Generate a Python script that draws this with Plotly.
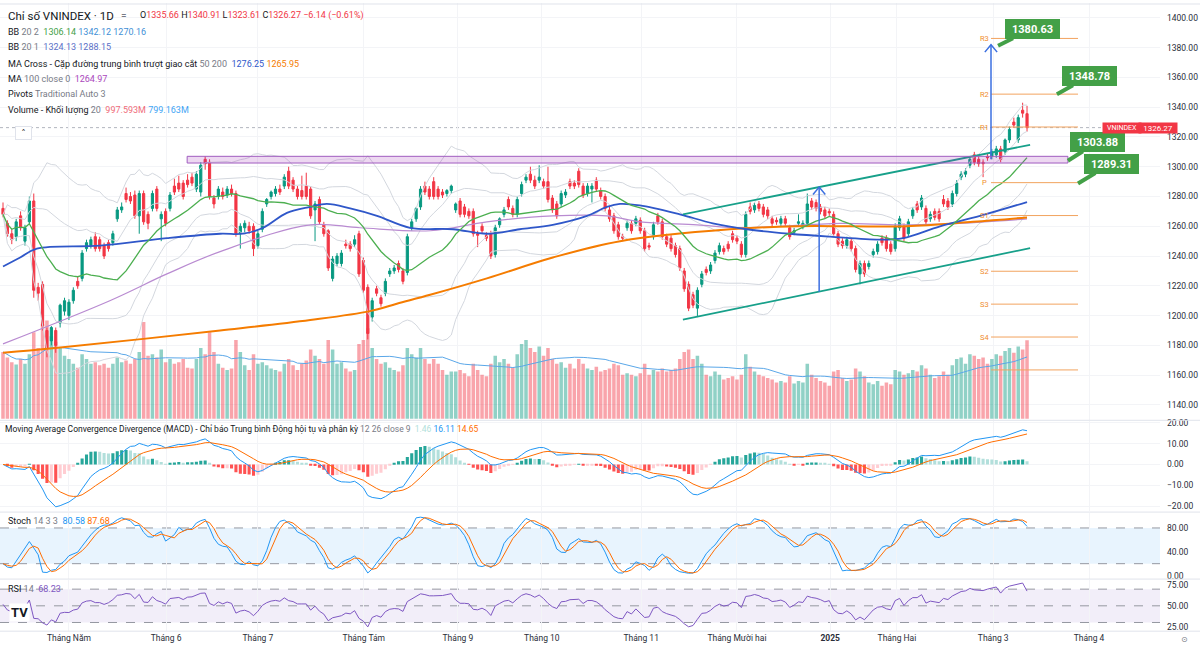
import numpy as np
import pandas as pd
import plotly.graph_objects as go

# ---------------- data ----------------
OPEN = [1272,1262,1255,1253,1267,1250,1263,1277,1219,1221,
        1190,1183,1190,1195,1203,1200,1210,1223,1225,1245,
        1247,1253,1251,1247,1249,1249,1265,1271,1282,1280,
        1281,1267,1282,1268,1272,1285,1265,1270,1272,1287,
        1289,1289,1291,1293,1285,1283,1305,1303,1279,1280,
        1283,1281,1285,1282,1255,1259,1260,1260,1247,1258,
        1275,1280,1282,1285,1287,1297,1291,1285,1284,1287,
        1285,1271,1278,1261,1257,1225,1235,1235,1248,1248,
        1248,1255,1237,1219,1199,1218,1212,1215,1228,1230,
        1235,1230,1229,1259,1265,1273,1287,1285,1290,1285,
        1283,1282,1284,1271,1277,1273,1270,1270,1255,1260,
        1254,1255,1241,1261,1268,1278,1272,1268,1282,1291,
        1295,1291,1291,1290,1290,1279,1275,1275,1281,1290,
        1289,1297,1287,1282,1285,1291,1284,1280,1271,1267,
        1261,1253,1259,1262,1262,1264,1257,1247,1253,1267,
        1263,1253,1252,1247,1245,1230,1221,1214,1205,1221,
        1231,1230,1237,1243,1245,1248,1255,1252,1248,1241,
        1273,1271,1275,1273,1271,1265,1264,1262,1265,1259,
        1256,1262,1260,1262,1277,1276,1273,1271,1270,1268,
        1255,1250,1247,1250,1245,1228,1235,1233,1241,1243,
        1252,1252,1248,1245,1259,1260,1255,1267,1275,1273,
        1272,1265,1270,1270,1278,1277,1275,1282,1293,1295,
        1301,1308,1305,1303,1307,1307,1308,1312,1310,1318,
        1330,1318,1338,1335.66]
HIGH = [1276,1264,1258,1265,1270,1261,1280,1282,1222,1223,
        1192,1193,1192,1208,1212,1211,1219,1226,1244,1251,
        1253,1256,1253,1249,1251,1257,1273,1276,1286,1283,
        1284,1284,1284,1270,1284,1287,1270,1272,1283,1292,
        1294,1291,1295,1296,1297,1303,1307,1305,1281,1287,
        1286,1287,1288,1284,1262,1264,1263,1262,1257,1272,
        1279,1284,1287,1288,1295,1300,1293,1287,1294,1296,
        1287,1277,1280,1263,1258,1240,1242,1244,1251,1250,
        1254,1257,1239,1221,1212,1220,1214,1225,1232,1234,
        1237,1232,1255,1265,1273,1287,1290,1287,1293,1287,
        1285,1285,1288,1276,1279,1275,1272,1272,1257,1262,
        1256,1257,1261,1266,1273,1280,1274,1280,1290,1295,
        1300,1294,1301,1292,1300,1281,1277,1284,1285,1292,
        1291,1299,1289,1289,1289,1293,1286,1282,1273,1269,
        1263,1255,1264,1264,1267,1266,1259,1249,1263,1269,
        1265,1255,1254,1249,1247,1232,1223,1216,1219,1230,
        1233,1236,1244,1249,1247,1250,1257,1254,1250,1270,
        1276,1276,1277,1275,1273,1267,1266,1267,1267,1261,
        1259,1268,1264,1282,1279,1278,1275,1273,1272,1270,
        1257,1252,1253,1252,1247,1237,1237,1237,1245,1250,
        1254,1254,1250,1262,1267,1262,1265,1273,1277,1281,
        1274,1270,1272,1272,1281,1279,1284,1291,1297,1299,
        1307,1310,1307,1305,1309,1312,1314,1314,1319,1327,
        1333,1335,1343,1340.91]
LOW = [1266,1253,1248,1250,1257,1247,1261,1212,1210,1190,
       1172,1180,1175,1192,1200,1197,1208,1218,1223,1243,
       1245,1243,1243,1238,1243,1247,1263,1269,1276,1275,
       1265,1255,1261,1258,1270,1270,1250,1260,1270,1281,
       1283,1278,1286,1287,1283,1280,1298,1278,1272,1278,
       1278,1279,1280,1253,1245,1256,1255,1240,1245,1256,
       1273,1278,1280,1281,1285,1285,1283,1278,1278,1278,
       1265,1250,1261,1253,1230,1223,1233,1233,1245,1243,
       1246,1226,1215,1184,1196,1213,1206,1213,1226,1228,
       1229,1221,1227,1257,1263,1271,1281,1278,1278,1278,
       1279,1280,1282,1269,1266,1266,1265,1253,1246,1255,
       1250,1238,1239,1259,1266,1271,1266,1266,1280,1289,
       1289,1285,1289,1285,1276,1269,1265,1273,1279,1285,
       1285,1286,1279,1280,1276,1283,1278,1270,1263,1255,
       1251,1250,1257,1255,1260,1255,1243,1244,1251,1261,
       1251,1246,1243,1239,1230,1216,1203,1205,1199,1219,
       1227,1228,1235,1241,1241,1243,1249,1248,1239,1239,
       1268,1269,1270,1266,1265,1260,1261,1260,1260,1251,
       1254,1260,1258,1260,1271,1270,1268,1265,1267,1253,
       1246,1245,1245,1243,1229,1221,1226,1231,1239,1241,
       1247,1243,1241,1243,1257,1250,1253,1265,1269,1271,
       1261,1263,1264,1263,1273,1271,1273,1280,1291,1293,
       1299,1301,1300,1293,1304,1305,1306,1303,1308,1316,
       1326,1316,1333,1323.61]
CLOSE = [1268,1255,1251,1263,1259,1259,1277,1217,1215,1193,
         1178,1192,1180,1207,1210,1209,1217,1220,1242,1249,
         1251,1245,1245,1240,1245,1255,1271,1273,1278,1277,
         1267,1282,1263,1262,1282,1272,1268,1262,1281,1283,
         1285,1280,1288,1289,1295,1301,1302,1280,1275,1285,
         1280,1285,1282,1255,1260,1262,1257,1245,1255,1270,
         1278,1283,1285,1283,1293,1287,1285,1280,1280,1280,
         1267,1275,1263,1255,1232,1238,1240,1242,1247,1245,
         1251,1228,1217,1188,1210,1215,1208,1223,1230,1232,
         1231,1223,1253,1263,1272,1285,1283,1280,1280,1280,
         1281,1284,1287,1275,1268,1268,1267,1255,1254,1257,
         1252,1240,1259,1265,1271,1273,1268,1278,1288,1293,
         1291,1287,1293,1287,1278,1271,1267,1282,1283,1287,
         1287,1288,1281,1287,1287,1285,1280,1272,1265,1257,
         1253,1252,1262,1257,1265,1257,1245,1246,1261,1263,
         1253,1248,1245,1241,1232,1218,1205,1207,1217,1228,
         1229,1234,1242,1247,1243,1245,1251,1250,1241,1268,
         1270,1274,1272,1268,1267,1262,1263,1265,1262,1253,
         1257,1263,1262,1275,1273,1272,1270,1267,1269,1255,
         1248,1247,1251,1245,1231,1235,1228,1235,1243,1248,
         1249,1245,1243,1260,1265,1252,1263,1271,1271,1279,
         1263,1268,1266,1265,1275,1273,1282,1289,1295,1297,
         1305,1303,1302,1302,1306,1310,1312,1305,1318,1325,
         1328,1333,1336,1326.27]
VOLUME_M = [850,780,720,690,760,700,820,1100,900,1200,
            1250,1050,980,900,800,760,700,650,820,760,
            700,720,680,700,650,700,780,720,740,700,
            760,850,1230,800,820,780,880,720,760,700,
            720,760,650,640,760,900,820,1100,850,700,
            650,620,640,1000,850,680,620,820,700,720,
            680,640,620,600,700,760,680,620,700,740,
            880,800,760,700,1000,880,700,720,640,600,
            620,950,1000,1150,900,760,700,720,650,620,
            600,680,900,820,780,900,760,700,760,700,
            620,560,600,600,620,580,540,700,620,560,
            540,700,800,720,760,700,650,820,950,1000,
            900,850,920,800,900,760,700,720,650,700,
            640,760,700,640,620,660,600,620,640,700,
            680,560,580,560,540,580,700,560,620,600,
            640,600,620,640,760,850,880,760,800,700,
            560,540,600,560,500,520,540,500,560,820,
            660,600,560,540,520,500,460,480,460,540,
            450,480,460,700,560,520,480,460,420,600,
            620,520,480,500,640,600,540,460,440,480,
            420,460,440,620,600,560,580,620,600,680,
            640,560,520,540,600,560,680,760,780,700,
            820,800,760,780,700,760,820,800,860,900,
            840,920,880,997.593]

# long moving averages, read as vertices (bar index, value)
MA50_X = [0, 3.9, 7.7, 22.1, 37.3, 49.4, 54.6, 59.2, 64.6, 69.9, 73.7, 79.0, 85.1, 92.6, 102.4, 110.1,
          117.6, 125.1, 132.9, 137.4, 140.4, 144.9, 154.0, 161.5, 169.3, 179.1, 188.2, 199.5, 204.8,
          213.2, 222.3, 233]
MA50_Y = [1233, 1239, 1245, 1247, 1252, 1255, 1255, 1259, 1269, 1273, 1275, 1272, 1267, 1259, 1258, 1255,
          1258, 1261, 1267, 1273, 1275, 1274, 1268, 1262, 1258, 1255, 1253, 1251, 1252,
          1260, 1267, 1276.25]
MA100_X = [0, 24.3, 37.3, 49.4, 69.9, 81.2, 97.2, 110.1, 125.1, 137.4, 144.9, 157.9, 167.7, 190.4, 204.1, 217.7, 233]
MA100_Y = [1181, 1210, 1228, 1243, 1261, 1259, 1257, 1263, 1267, 1267, 1263, 1261, 1259, 1262, 1261, 1262, 1264.97]
MA200_X = [0, 11.4, 49.4, 69.9, 83.5, 89.6, 97.2, 110.1, 125.1, 140.4, 165.4, 180.7, 192.7, 205.7, 220.7, 233]
MA200_Y = [1175, 1178, 1190, 1197, 1203, 1208, 1214, 1225, 1239, 1250, 1258, 1260, 1260, 1260, 1263, 1265.95]

MONTH_POS = [15.0, 37.1, 58.0, 82.1, 103.5, 122.6, 145.2, 167.0, 188.2, 203.4, 225.3, 247.1]
MONTH_LABELS = ["Tháng Năm", "Tháng 6", "Tháng 7", "Tháng Tám", "Tháng 9", "Tháng 10", "Tháng 11",
                "Tháng Mười hai", "<b>2025</b>", "Tháng Hai", "Tháng 3", "Tháng 4"]

PRICE_TICKS = [1140, 1160, 1180, 1200, 1220, 1240, 1260, 1280, 1300, 1320, 1340, 1360, 1380, 1400]
MACD_TICKS = [-20, -10, 0, 10, 20]
STOCH_TICKS = [0, 40, 80]
RSI_TICKS = [25, 50, 75]

# drawings
ZONE_X = [41.9, 242.3]
ZONE_Y = [1302.5, 1307.0]
CHANNEL_X = [154.7, 233.7]
CHANNEL_UP = [1268.0, 1314.7]
CHANNEL_LO = [1197.3, 1245.3]
ARROW_X = [185.7, 224.8]
ARROW_FROM = [1216.0, 1305.0]
ARROW_TO = [1286.3, 1382.0]
PIVOT_NAMES = ["R3", "R2", "R1", "P", "S1", "S2", "S3", "S4", "S5"]
PIVOT_VALS = [1386.2, 1348.78, 1326.7, 1289.31, 1267.2, 1229.8, 1207.7, 1185.6, 1163.5]
PIVOT_SPAN = [224.8, 244.6]
PIVOT_LABEL_X = 223.4
CALLOUT_TEXT = ["1380.63", "1348.78", "1303.88", "1289.31"]
CALLOUT_X = [226.4, 239.8, 242.3, 244.6]
CALLOUT_Y = [1381.3, 1348.7, 1304.0, 1288.7]
CALLOUT_OFF = [(34, -17), (33, -18.5), (30, -19), (33, -20)]
LAST_PRICE = 1326.27

# ---------------- indicators derived from the prices ----------------
c = pd.Series(CLOSE, dtype=float)
hi = pd.Series(HIGH, dtype=float)
lo = pd.Series(LOW, dtype=float)
basis = c.rolling(20, min_periods=1).mean()
sd = c.rolling(20, min_periods=1).std(ddof=0)
ema12 = c.ewm(span=12, adjust=False).mean()
ema26 = c.ewm(span=26, adjust=False).mean()
macd = ema12 - ema26
sig = macd.ewm(span=9, adjust=False).mean()
hist = macd - sig
ll = lo.rolling(14, min_periods=1).min()
hh = hi.rolling(14, min_periods=1).max()
raw = 100 * (c - ll) / (hh - ll)
k = raw.rolling(3, min_periods=1).mean()
d = k.rolling(3, min_periods=1).mean()

# RSI(14): Wilder smoothing, seeded with the series' average gain / loss (stands in for unseen history)
delta = c.diff().fillna(0)
gains = delta.clip(lower=0)
losses = -delta.clip(upper=0)
ag, al = gains[1:].mean(), losses[1:].mean()
rsi_vals = []
for gg, lv in zip(gains, losses):
    ag = (ag * 13 + gg) / 14
    al = (al * 13 + lv) / 14
    rsi_vals.append(100 - 100 / (1 + ag / al))
rsi = pd.Series(rsi_vals)
vol_ma = pd.Series(VOLUME_M, dtype=float).rolling(20, min_periods=1).mean()

N = len(CLOSE)
IDX = list(range(N))

# ---------------- geometry ----------------
W, H = 1200, 655
PX0, STEP = 3.0, 4.395
X_RIGHT = 1160
X_DOM = X_RIGHT / W
X_RANGE = [(0 - PX0) / STEP, (X_RIGHT - PX0) / STEP]


def py(p):
    return 1 - p / H


FONT = "Roboto"
DARK = "#131722"
GRAY = "#787b86"
UP = "#089981"
DN = "#f23645"

fig = go.Figure()

# volume
vol_colors = ["rgba(8,153,129,0.45)" if CLOSE[i] >= OPEN[i] else "rgba(242,54,69,0.45)" for i in IDX]
fig.add_trace(go.Bar(x=IDX, y=VOLUME_M, marker=dict(color=vol_colors, line=dict(width=0)), width=0.8,
                     xaxis="x", yaxis="y"))
fig.add_trace(go.Scatter(x=IDX, y=vol_ma, mode="lines", line=dict(color="#5aa7e8", width=1),
                         xaxis="x", yaxis="y"))

# bollinger bands
for band in [basis + 2 * sd, basis - 2 * sd, basis + sd, basis - sd]:
    fig.add_trace(go.Scatter(x=IDX, y=band, mode="lines", line=dict(color="#d3d7de", width=1),
                             xaxis="x", yaxis="y2"))
fig.add_trace(go.Scatter(x=MA100_X, y=MA100_Y, mode="lines", line=dict(color="#b98bd1", width=1.2, shape="spline"),
                         xaxis="x", yaxis="y2"))
fig.add_trace(go.Scatter(x=MA200_X, y=MA200_Y, mode="lines", line=dict(color="#f57c00", width=2, shape="spline"),
                         xaxis="x", yaxis="y2"))
fig.add_trace(go.Scatter(x=MA50_X, y=MA50_Y, mode="lines", line=dict(color="#2f57c9", width=1.8, shape="spline"),
                         xaxis="x", yaxis="y2"))
fig.add_trace(go.Scatter(x=IDX, y=basis, mode="lines", line=dict(color="#4caf50", width=1.3),
                         xaxis="x", yaxis="y2"))

# candles
fig.add_trace(go.Candlestick(x=IDX, open=OPEN, high=HIGH, low=LOW, close=CLOSE,
                             increasing=dict(line=dict(color=UP, width=1), fillcolor=UP),
                             decreasing=dict(line=dict(color=DN, width=1), fillcolor=DN),
                             whiskerwidth=0, xaxis="x", yaxis="y2"))

# pivot lines
pvx, pvy = [], []
for v in PIVOT_VALS:
    pvx += [PIVOT_SPAN[0], PIVOT_SPAN[1], None]
    pvy += [v, v, None]
fig.add_trace(go.Scatter(x=pvx, y=pvy, mode="lines", line=dict(color="#f2a35e", width=1),
                         xaxis="x", yaxis="y2"))

# channel
for yy in [CHANNEL_UP, CHANNEL_LO]:
    fig.add_trace(go.Scatter(x=CHANNEL_X, y=yy, mode="lines", line=dict(color="#17a08a", width=1.8),
                             xaxis="x", yaxis="y2"))

# measured-move arrows
for ax_, y0, y1 in zip(ARROW_X, ARROW_FROM, ARROW_TO):
    fig.add_trace(go.Scatter(x=[ax_, ax_, None, ax_ - 1.4, ax_, ax_ + 1.4],
                             y=[y0, y1, None, y1 - 5, y1, y1 - 5],
                             mode="lines", line=dict(color="#3b6fe0", width=1.5),
                             xaxis="x", yaxis="y2"))

# MACD
hist_colors = []
for i in IDX:
    h_ = hist[i]
    prev = hist[i - 1] if i > 0 else h_
    if h_ >= 0:
        hist_colors.append("#26a69a" if h_ >= prev else "#b2dfdb")
    else:
        hist_colors.append("#ffcdd2" if h_ >= prev else "#ff5252")
fig.add_trace(go.Bar(x=IDX, y=hist, marker=dict(color=hist_colors, line=dict(width=0)), width=0.7,
                     xaxis="x", yaxis="y3"))
fig.add_trace(go.Scatter(x=IDX, y=macd, mode="lines", line=dict(color="#2196f3", width=1), xaxis="x", yaxis="y3"))
fig.add_trace(go.Scatter(x=IDX, y=sig, mode="lines", line=dict(color="#ff6d00", width=1), xaxis="x", yaxis="y3"))

# Stoch
fig.add_trace(go.Scatter(x=IDX, y=k, mode="lines", line=dict(color="#2196f3", width=1), xaxis="x", yaxis="y4"))
fig.add_trace(go.Scatter(x=IDX, y=d, mode="lines", line=dict(color="#ff6d00", width=1), xaxis="x", yaxis="y4"))

# RSI
fig.add_trace(go.Scatter(x=IDX, y=rsi, mode="lines", line=dict(color="#7e57c2", width=1), xaxis="x", yaxis="y5"))

# ---------------- shapes ----------------
shapes = []
shapes.append(dict(type="rect", xref="x", yref="y2", x0=ZONE_X[0], x1=ZONE_X[1], y0=ZONE_Y[0], y1=ZONE_Y[1],
                   fillcolor="rgba(156,39,176,0.18)", line=dict(color="#a05cc0", width=1), layer="above"))
shapes.append(dict(type="line", xref="paper", yref="y2", x0=0, x1=X_DOM, y0=LAST_PRICE, y1=LAST_PRICE,
                   line=dict(color="#b2b5be", width=1, dash="dot"), layer="below"))
shapes.append(dict(type="rect", xref="paper", yref="y4", x0=0, x1=X_DOM, y0=20, y1=80,
                   fillcolor="rgba(33,150,243,0.10)", line=dict(width=0), layer="below"))
for v in [20, 80]:
    shapes.append(dict(type="line", xref="paper", yref="y4", x0=0, x1=X_DOM, y0=v, y1=v,
                       line=dict(color="#9598a1", width=1, dash="dash"), layer="below"))
shapes.append(dict(type="rect", xref="paper", yref="y5", x0=0, x1=X_DOM, y0=30, y1=70,
                   fillcolor="rgba(126,87,194,0.10)", line=dict(width=0), layer="below"))
for v in [30, 50, 70]:
    shapes.append(dict(type="line", xref="paper", yref="y5", x0=0, x1=X_DOM, y0=v, y1=v,
                       line=dict(color="#9598a1", width=1, dash="dash"), layer="below"))
for p in [420.5, 513, 580.5, 633]:
    shapes.append(dict(type="line", xref="paper", yref="paper", x0=0, x1=1, y0=py(p), y1=py(p),
                       line=dict(color="#e0e3eb", width=1)))
shapes.append(dict(type="line", xref="paper", yref="paper", x0=0, x1=1, y0=py(1), y1=py(1),
                   line=dict(color="#e0e3eb", width=1)))

# ---------------- annotations ----------------
ann = []


def txt(x_px, y_px, text, size=9, color=DARK, **kw):
    d_ = dict(x=x_px / W, y=py(y_px), xref="paper", yref="paper", xanchor="left", yanchor="middle",
              text=text, showarrow=False, align="left", font=dict(family=FONT, size=size, color=color))
    d_.update(kw)
    ann.append(d_)


def g(s):
    return f'<span style="color:{GRAY}">{s}</span>'


def col(s, c_):
    return f'<span style="color:{c_}">{s}</span>'


txt(6, 13, "Chỉ số VNINDEX · 1D", size=11.5)
txt(119, 13, "=", size=10, color=GRAY)
r = "#f23645"
txt(138, 13, "O" + col("1335.66", r) + " H" + col("1340.91", r) + " L" + col("1323.61", r) +
    " C" + col("1326.27 −6.14 (−0.61%)", r), size=9)
txt(6, 29, "BB " + g("20 2") + "&nbsp; " + col("1306.14", "#43a047") + " " + col("1342.12", "#3f8fd6") + " " +
    col("1270.16", "#3f8fd6"))
txt(6, 44, "BB " + g("20 1") + "&nbsp; " + col("1324.13", "#5b6fc7") + " " + col("1288.15", "#5b6fc7"))
txt(6, 61, "MA Cross - Cặp đường trung bình trượt giao cắt " + g("50 200") + "&nbsp; " +
    col("1276.25", "#2f57c9") + " " + col("1265.95", "#f57c00"))
txt(6, 77, "MA " + g("100 close 0") + "&nbsp; " + col("1264.97", "#ab47bc"))
txt(6, 92, "Pivots " + g("Traditional Auto 3"))
txt(6, 108, "Volume - Khối lượng " + g("20") + "&nbsp; " + col("997.593M", "#f06c7a") + " " +
    col("799.163M", "#42a5f5"))
ann.append(dict(x=15 / W, y=py(124), xref="paper", yref="paper", text="˄", showarrow=False,
                font=dict(family="DejaVu Sans", size=9, color=DARK), bordercolor="#e0e3eb", borderwidth=1,
                width=13, height=10, borderpad=1, bgcolor="white"))

txt(3, 430, "Moving Average Convergence Divergence (MACD) - Chỉ báo Trung bình Động hội tụ và phân kỳ " +
    g("12 26 close 9") + "&nbsp; " + col("1.46", "#b2dfdb") + " " + col("16.11", "#2196f3") + " " +
    col("14.65", "#ff6d00"), size=8.5)
txt(6, 522, "Stoch " + g("14 3 3") + "&nbsp; " + col("80.58", "#2196f3") + " " + col("87.68", "#ff6d00"))
txt(6, 591, "RSI " + g("14") + "&nbsp; " + col("68.23", "#7e57c2"))
txt(9, 614, "<b>TV</b>", size=13, color="#131722", bgcolor="white")
ann.append(dict(x=1190 / W, y=py(648), xref="paper", yref="paper", text="⊙", showarrow=False,
                font=dict(family="DejaVu Sans", size=8, color=GRAY)))

# pivot labels
for name, v in zip(PIVOT_NAMES[:-1], PIVOT_VALS[:-1]):
    ann.append(dict(x=PIVOT_LABEL_X, y=v, xref="x", yref="y2", text=name, showarrow=False,
                    font=dict(family=FONT, size=7.5, color="#f08c2e")))

# callouts
for t, xx, yy, (oxp, oyp) in zip(CALLOUT_TEXT, CALLOUT_X, CALLOUT_Y, CALLOUT_OFF):
    ann.append(dict(x=xx, y=yy, xref="x", yref="y2", text=f"<b>{t}</b>", showarrow=True, ax=oxp, ay=oyp,
                    arrowhead=0, arrowwidth=4, arrowcolor="#43a047", standoff=0,
                    bgcolor="#43a047", bordercolor="#43a047", borderwidth=1, borderpad=2,
                    width=49, height=14, font=dict(family=FONT, size=11, color="white")))

# last price tag
ann.append(dict(x=1141.5 / W, y=LAST_PRICE, xref="paper", yref="y2", text="VNINDEX", showarrow=False,
                bgcolor=DN, width=36, height=8, borderpad=1, font=dict(family=FONT, size=7, color="white")))
ann.append(dict(x=1178 / W, y=LAST_PRICE, xref="paper", yref="y2", text="1326.27", showarrow=False,
                bgcolor=DN, width=36, height=8, borderpad=1, font=dict(family=FONT, size=8, color="white")))

# ---------------- layout ----------------
tickfont = dict(family=FONT, size=8.5, color="#2a2e39")
GRID = "#f3f4f7"


def fmt(v):
    return f"{v:.2f}".replace("-", "−")


fig.update_layout(
    width=W, height=H, margin=dict(l=0, r=0, t=0, b=0),
    paper_bgcolor="white", plot_bgcolor="white",
    showlegend=False, hovermode=False, barmode="overlay",
    xaxis=dict(domain=[0, X_DOM], range=X_RANGE, anchor="y5", tickmode="array", tickvals=MONTH_POS,
               ticktext=MONTH_LABELS, showgrid=True, gridcolor=GRID, zeroline=False, showline=False,
               ticks="", tickfont=tickfont, rangeslider=dict(visible=False), fixedrange=True),
    yaxis=dict(domain=[py(420), 1], range=[-12, 5280], visible=False, showgrid=False, fixedrange=True),
    yaxis2=dict(overlaying="y", side="right", anchor="x", range=[1130, 1410], tickmode="array",
                tickvals=PRICE_TICKS, ticktext=[fmt(v) for v in PRICE_TICKS], showgrid=True, gridcolor=GRID,
                zeroline=False, ticks="", tickfont=tickfont, ticklabelstandoff=6),
    yaxis3=dict(domain=[py(512), py(421)], anchor="x", side="right", range=[-22.4, 20.95], tickmode="array",
                tickvals=MACD_TICKS, ticktext=[fmt(v) for v in MACD_TICKS], showgrid=True, gridcolor=GRID,
                zeroline=False, ticks="", tickfont=tickfont, ticklabelstandoff=6),
    yaxis4=dict(domain=[py(580), py(514)], anchor="x", side="right", range=[-5, 105], tickmode="array",
                tickvals=STOCH_TICKS, ticktext=[fmt(v) for v in STOCH_TICKS], showgrid=False,
                zeroline=False, ticks="", tickfont=tickfont, ticklabelstandoff=6),
    yaxis5=dict(domain=[py(633), py(581)], anchor="x", side="right", range=[19.6, 81.5], tickmode="array",
                tickvals=RSI_TICKS, ticktext=[fmt(v) for v in RSI_TICKS], showgrid=False,
                zeroline=False, ticks="", tickfont=tickfont, ticklabelstandoff=6),
    shapes=shapes, annotations=ann,
)

fig.write_html("out.html")
